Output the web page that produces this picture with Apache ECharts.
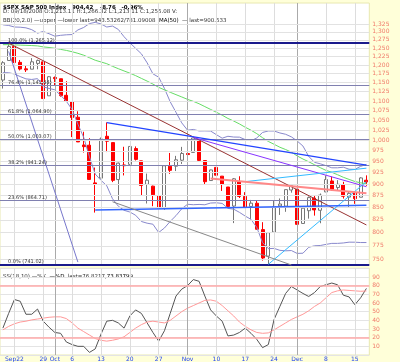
<!DOCTYPE html>
<html><head><meta charset="utf-8">
<script src="https://cdn.jsdelivr.net/npm/echarts@6/dist/echarts.min.js"></script>
<style>html,body{margin:0;padding:0;background:#ffffd9;}#c{width:400px;height:362px;}</style>
</head><body><div id="c"></div>
<script>
const dates=['09-18','09-19','09-22','09-23','09-24','09-25','09-26','09-29','09-30','10-01','10-02','10-03','10-06','10-07','10-08','10-09','10-10','10-13','10-14','10-15','10-16','10-17','10-20','10-21','10-22','10-23','10-24','10-27','10-28','10-29','10-30','10-31','11-03','11-04','11-05','11-06','11-07','11-10','11-11','11-12','11-13','11-14','11-17','11-18','11-19','11-20','11-21','11-24','11-25','11-26','11-28','12-01','12-02','12-03','12-04','12-05','12-08','12-09','12-10','12-11','12-12','12-15','12-16','12-17'];
const openP=[1157.08,1213.11,1255.37,1207.61,1188.79,1187.87,1204.47,1209.07,1113.78,1164.17,1160.64,1115.16,1097.56,1057.60,988.91,988.42,902.31,912.75,1009.97,994.60,909.53,942.29,943.51,980.40,951.67,899.08,895.22,874.28,848.92,939.51,939.38,953.11,968.67,971.31,1001.84,952.40,907.44,936.75,917.15,893.39,853.13,904.36,873.23,852.34,859.03,805.87,755.84,801.20,853.40,852.90,886.89,888.61,817.94,843.60,869.75,844.43,882.71,906.48,892.17,898.35,871.79,881.07,871.53,908.16];
const highP=[1211.14,1265.12,1255.37,1214.38,1197.41,1220.03,1215.77,1209.07,1168.03,1167.03,1160.64,1153.82,1097.56,1072.91,1021.06,1005.25,936.36,1006.93,1044.31,994.60,947.71,984.64,985.40,985.44,951.67,922.83,896.30,893.78,940.51,969.97,963.23,984.38,975.57,1007.51,1001.84,952.40,931.46,951.95,917.15,893.39,913.01,916.88,882.29,865.90,864.57,820.52,801.20,865.60,868.94,887.68,896.25,888.61,850.54,873.12,875.60,879.42,918.57,916.26,908.27,904.63,883.24,884.63,914.66,918.85];
const lowP=[1133.50,1213.11,1205.61,1184.34,1179.79,1187.87,1187.54,1106.42,1113.78,1140.77,1111.43,1098.14,1007.97,996.23,970.97,909.19,839.80,912.75,972.07,903.99,865.83,918.74,943.51,952.47,875.81,858.44,852.85,846.75,845.27,922.26,928.50,944.59,958.82,971.31,949.86,899.73,906.90,907.47,884.90,850.48,818.69,869.88,848.98,826.84,806.18,747.78,741.02,801.20,834.99,841.37,881.21,815.69,817.94,827.60,833.60,818.41,882.71,885.38,885.45,868.73,851.35,857.72,871.53,895.94];
const closeP=[1206.51,1255.08,1207.09,1188.22,1185.87,1209.18,1213.27,1106.39,1166.36,1161.06,1114.28,1099.23,1056.89,996.23,984.94,909.92,899.22,1003.35,998.01,907.84,946.43,940.55,985.40,955.05,896.78,908.11,876.77,848.92,940.51,930.09,954.09,968.75,966.30,1005.75,952.77,904.88,930.99,919.21,898.95,852.30,911.29,873.29,850.75,859.12,806.58,752.44,800.03,851.81,857.39,887.68,896.24,816.21,848.81,870.74,845.22,876.07,909.70,888.67,899.24,873.59,879.73,868.57,913.18,904.42];
const bbUpper=[1322.5,1320.3,1315.4,1314.8,1312.7,1307.0,1296.0,1301.2,1294.2,1286.5,1289.2,1290.8,1291.6,1306.1,1313.9,1326.3,1330.3,1325.1,1315.4,1318.4,1307.7,1284.8,1266.1,1249.3,1232.9,1206.2,1174.6,1165.1,1133.8,1097.7,1070.2,1043.2,1024.9,1026.8,1023.0,1023.2,1022.8,1013.9,1005.3,1009.9,1008.1,1007.8,1001.9,998.9,1005.8,1019.3,1023.0,1022.9,1018.1,1014.8,1008.5,998.5,986.4,962.0,948.3,944.9,940.7,935.8,935.8,937.2,932.6,932.3,939.1,943.5];
const bbLower=[1177.8,1177.7,1174.1,1166.8,1160.3,1158.7,1160.9,1138.0,1133.8,1130.1,1115.2,1099.2,1077.3,1039.9,1007.4,961.1,921.8,908.0,896.1,868.3,852.9,844.4,840.9,834.4,821.9,818.5,816.5,800.3,809.1,822.1,833.6,847.6,856.8,855.9,856.5,855.8,859.4,859.9,858.6,848.4,846.7,840.2,832.7,826.1,810.2,781.1,769.7,770.1,766.5,765.6,766.1,760.8,761.2,772.1,775.0,775.5,777.6,779.5,779.5,780.3,781.8,781.7,781.1,781.1];
const ma50=[1260.4,1260.4,1259.8,1259.0,1258.4,1257.7,1256.7,1253.6,1251.8,1249.5,1246.1,1243.0,1239.0,1234.3,1228.7,1221.2,1213.8,1208.7,1203.7,1196.1,1189.3,1182.8,1176.5,1169.5,1161.7,1154.1,1145.8,1136.8,1130.0,1123.3,1116.9,1110.7,1104.2,1099.0,1092.6,1085.1,1077.7,1070.4,1062.8,1054.4,1047.9,1040.5,1032.2,1024.9,1016.4,1006.4,997.4,990.6,983.5,978.1,971.9,963.1,955.9,949.6,942.8,936.1,930.0,925.7,920.3,914.6,909.9,905.3,902.4,900.5];
const stochK=[31,48,64,62,47,47,53,39,32,26,25,15,12,10,10,3,7,24,39,40,37,31,45,52,48,37,26,16,28,48,68,76,80,87,85,68,52,45,39,22,23,26,31,25,18,8.5,12,41,56,71,79,75,71,67.5,72,79,81,83,81,69,67,58,66,76.8];
const stochD=[29,33,36,38,39,40.5,41.5,42.5,43.5,44,44,42,37,31,27,23,19,17,16,17,18.5,21,26,31,35,38,39,38,37,40,45,50,54,57,60,63,63.5,62,57,51,45,38,33,29,26,25,25.5,29,33,37,41,44,47,51,56,60,66,72,74,75,74.5,74,73.5,73.8];
const priceTicks=[750,775,800,825,850,875,900,925,950,975,1000,1025,1050,1075,1100,1125,1150,1175,1200,1225,1250,1275,1300,1325];
const stochTicks=[10,20,30,40,50,60,70,80,90];
const xTickLabels={'09-22':'Sep22','09-29':'29','10-01':'Oct','10-06':'6','10-13':'13','10-20':'20','10-27':'27','11-03':'Nov','11-10':'10','11-17':'17','11-24':'24','12-01':'Dec','12-08':'8','12-15':'15'};
const monthStarts=['10-01','11-03','12-01'];
const fibLevels=[[741.02,'0.0% (741.02)'],[864.71,'23.6% (864.71)'],[941.24,'38.2% (941.24)'],[1003.07,'50.0% (1,003.07)'],[1064.90,'61.8% (1,064.90)'],[1141.44,'76.4% (1,141.44)'],[1265.12,'100.0% (1,265.12)']];
// trend lines: [startIndex, startPrice, endIndex, endPrice, color, width]
const trendLines=[
 [1,1265,63.4,815,'#993333',1],
 [18,1044,63.4,942,'#2244ff',1.2],
 [33,1007,63.4,894,'#8833ff',1],
 [46,741,63.4,905,'#33bbff',1],
 [41.5,905,63.4,935,'#33bbff',1],
 [36,912,63.4,880,'#ff8888',2],
 [15.5,845,63.4,855,'#3366ff',1.5],
 [-0.5,1352,63.5,1296,'#888888',1],
 [-0.5,1290,63.5,1238,'#888888',1],
 [-0.5,1181,63.5,1158,'#888888',1],
 [-0.5,1077,63.5,1043,'#888888',1],
 [-0.5,848,63.5,848,'#cccccc',3],
 [-0.5,880,63.5,801,'#888888',1],
 [19.1,862,49.6,739.8,'#888888',1],
 [-0.5,790,63.5,788,'#999999',1],
 [-0.5,781,63.5,778,'#999999',1],
 [-0.5,773,63.5,770,'#999999',1],
 [-0.5,765,63.5,763,'#999999',1],
 [0.8,1240,13,745,'#7777cc',1]
];
const fmt=v=>v>=1000?(Math.floor(v/1000)+','+String(Math.round(v%1000)).padStart(3,'0')):String(v);
const candleData=dates.map((d,i)=>[openP[i],closeP[i],lowP[i],highP[i]]);
const chart=echarts.init(document.getElementById('c'),null,{renderer:'canvas'});
const FONT='DejaVu Sans';
const weekLines=Object.keys(xTickLabels).map(d=>({xAxis:d,lineStyle:{color:monthStarts.includes(d)?'#aaaaaa':'#dddddd',width:1,type:'solid'}}));
const priceGrid=priceTicks.map(p=>({yAxis:p,label:{show:true,formatter:fmt(p),position:'end',distance:3,color:'#f07a6a',fontSize:6,fontFamily:FONT}}));
const fibLines=fibLevels.map((f,i)=>({yAxis:f[0],lineStyle:{color:(i===0||i===6)?'#1a1a8c':'#8080b0',width:(i===0||i===6)?2:1,type:'solid'},label:{show:true,formatter:f[1],position:'insideStartTop',distance:[8,0],color:'#333',fontSize:5,fontFamily:FONT}}));
const tl=trendLines.map(t=>[{coord:[t[0],t[1]],lineStyle:{color:t[4],width:t[5],type:'solid'}},{coord:[t[2],t[3]]}]);
const rich={k:{fontSize:5.5,fontFamily:FONT,fill:'#333',color:'#333'},r:{fontSize:5.5,fontFamily:FONT,color:'#ee2222'},g:{fontSize:5.5,fontFamily:FONT,color:'#33aa33'},
  kb:{fontSize:5.5,fontFamily:FONT,fontWeight:'bold',color:'#222'},rb:{fontSize:5.5,fontFamily:FONT,fontWeight:'bold',color:'#ee2222'}};
const option={
 animation:false,
 backgroundColor:'#ffffd9',
 grid:[{left:0,right:30.7,top:3,height:262,show:true,backgroundColor:'#fff',borderColor:'#e8e8b0',borderWidth:1},
       {left:0,right:30.7,top:268.3,height:87.1,show:true,backgroundColor:'#fff',borderColor:'#e8e8b0',borderWidth:1}],
 xAxis:[{type:'category',data:dates,gridIndex:0,boundaryGap:true,axisLine:{show:false},axisTick:{show:false},axisLabel:{show:false},splitLine:{show:false}},
        {type:'category',data:dates,gridIndex:1,boundaryGap:true,axisLine:{show:false},axisTick:{show:false},splitLine:{show:false},
         axisLabel:{show:true,interval:(i,v)=>v in xTickLabels,formatter:v=>xTickLabels[v]||'',color:'#2244ee',fontSize:6,fontFamily:FONT,margin:1}}],
 yAxis:[{type:'log',logBase:10,min:739.8,max:1394.0,gridIndex:0,position:'right',axisLine:{show:false},axisTick:{show:false},axisLabel:{show:false},splitLine:{show:false}},
        {type:'value',min:0,max:100,interval:10,gridIndex:1,position:'right',axisLine:{show:false},axisTick:{show:false},
         splitLine:{show:true,lineStyle:{color:'#e4e4e4'}},
         axisLabel:{show:true,color:'#f07a6a',fontSize:6,fontFamily:FONT,margin:3,formatter:v=>stochTicks.includes(v)?String(v):''}}],
 series:[
  {type:'line',xAxisIndex:0,yAxisIndex:0,data:[],silent:true,
   markLine:{silent:true,symbol:'none',animation:false,lineStyle:{color:'#e2e2e2',width:1,type:'solid'},label:{show:false},data:[...weekLines,...priceGrid]}},
  {type:'line',xAxisIndex:0,yAxisIndex:0,data:[],silent:true,
   markLine:{silent:true,symbol:'none',animation:false,data:[...fibLines,...tl]}},
  {type:'line',name:'upper',data:bbUpper,xAxisIndex:0,yAxisIndex:0,symbol:'none',lineStyle:{color:'#8888cc',width:1},silent:true},
  {type:'line',name:'lower',data:bbLower,xAxisIndex:0,yAxisIndex:0,symbol:'none',lineStyle:{color:'#8888cc',width:1},silent:true},
  {type:'line',name:'ma50',data:ma50,xAxisIndex:0,yAxisIndex:0,symbol:'none',lineStyle:{color:'#66dd66',width:1},silent:true},
  {type:'candlestick',data:candleData,xAxisIndex:0,yAxisIndex:0,barWidth:3.5,
   itemStyle:{color:'#ffffff',color0:'#ff0000',borderColor:'#777777',borderColor0:'#ff0000',borderWidth:1},
   markLine:{silent:true,symbol:'none',data:[{yAxis:904.42,lineStyle:{width:0,opacity:0},label:{show:true,position:'end',distance:0,formatter:'904.42',color:'#fff',backgroundColor:'#ff0000',fontSize:7,fontWeight:'bold',fontFamily:FONT,padding:[1,8,1,3]}}]}},
  {type:'line',data:stochK,xAxisIndex:1,yAxisIndex:1,symbol:'none',lineStyle:{color:'#555555',width:1},silent:true,
   markLine:{silent:true,symbol:'none',label:{show:false},data:[...Object.keys(xTickLabels).map(d=>({xAxis:d,lineStyle:{color:monthStarts.includes(d)?'#aaaaaa':'#dddddd',width:1,type:'solid'}})),{yAxis:20,lineStyle:{color:'#ffaaaa',width:1.5,type:'solid'}},{yAxis:80,lineStyle:{color:'#ffaaaa',width:1.5,type:'solid'}}]}},
  {type:'line',data:stochD,xAxisIndex:1,yAxisIndex:1,symbol:'none',lineStyle:{color:'#ff9999',width:1},silent:true}
 ],
 graphic:[
  {type:'text',left:3,top:2,style:{text:'{kb|$SPX S&P 500 Index   904.42}  {rb|-8.76   -0.96%}',rich:rich}},
  {type:'text',left:3,top:9,style:{text:'{k|D: 09/18/2008 O:1,213.11 H:1,266.32 L:1,213.11 C:1,255.08 V:}',rich:rich}},
  {type:'text',left:3,top:15,style:{text:'{k|BB(20,2.0) \u2014upper \u2014lower last=943.53262/781.09008} {g|MA(50)} {k|\u2014 last=900.533}',rich:rich}},
  {type:'text',left:3,top:271,style:{text:'{k|SS(18,10) \u2014%K} {r|\u2014%D} {k|last=76.8217,}{r|73.83799}',rich:rich}}
 ]
};
chart.setOption(option);
</script></body></html>
